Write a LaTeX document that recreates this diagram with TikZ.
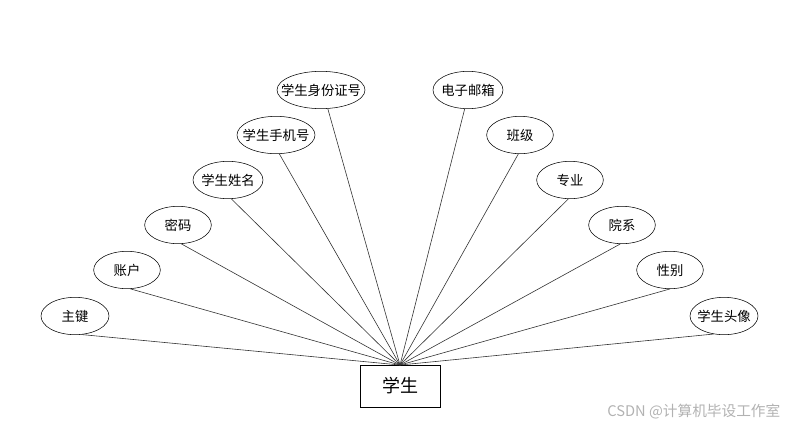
\documentclass[tikz,border=0pt]{standalone}
\usepackage{fontspec}
\newfontfamily\cjk{Noto Sans CJK SC}
\usetikzlibrary{positioning, shapes.geometric}

\begin{document}
\begin{tikzpicture}[x=0.75pt, y=-0.75pt]
        \tikzset{
            attr/.style={
                    ellipse, draw=black, thin, fill=white, inner xsep=-40pt, inner ysep=-10pt,
                    minimum width=50pt, minimum height=28pt, font=\cjk\fontsize{10}{12}\selectfont
                },
            entity/.style={
                    rectangle, draw=black, thin, inner sep=0pt,
                    minimum width=60pt, minimum height=31.5pt, font=\cjk\fontsize{13.5}{16}\selectfont
                },
            link/.style={
                    draw=black!80, line width=0.45pt
                }
        }
        \useasboundingbox (0,0) rectangle (800,430);

        \node[entity] (student) at (400, 386) {学生};
        \coordinate (hub) at (400, 365);

        % left side
        \node[attr, minimum width=51pt] (key) at (75, 316) {主键};
        \node[attr] (account) at (127, 270) {账户};
        \node[attr] (pwd) at (178, 225) {密码};
        \node[attr, minimum width=52.5pt] (name) at (228, 180) {学生姓名};
        \node[attr, minimum width=58.5pt] (phone) at (276, 135) {学生手机号};
        \node[attr, minimum width=66pt] (idcard) at (321, 90) {学生身份证号};

        % right side
        \node[attr, minimum width=52.5pt] (email) at (468, 90) {电子邮箱};
        \node[attr] (cls) at (520, 135) {班级};
        \node[attr] (major) at (570, 180) {专业};
        \node[attr] (dept) at (622, 225) {院系};
        \node[attr] (gender) at (670, 270) {性别};
        \node[attr, minimum width=51pt] (avatar) at (724, 316) {学生头像};

        \foreach \a/\ang in {key/-70, account/-80, pwd/-80, name/-80, phone/-80, idcard/-70,
                             email/-100, cls/-95, major/-95, dept/-95, gender/-90, avatar/-120}
            \draw[link] (\a.\ang) -- (hub);

        \node[font=\cjk\fontsize{11}{12}\selectfont, text=black!30, anchor=east] (mark) at (785, 412) {CSDN @计算机毕设工作室};
    \end{tikzpicture}
\end{document}
